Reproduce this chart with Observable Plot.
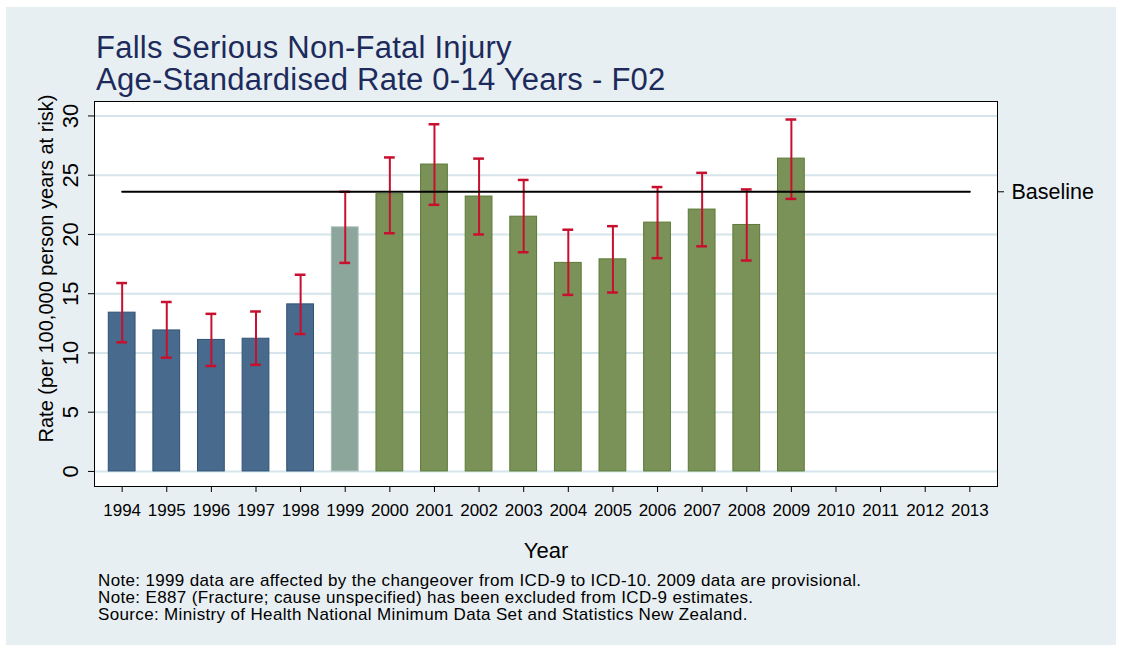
<!DOCTYPE html>
<html>
<head>
<meta charset="utf-8">
<script src="https://cdn.jsdelivr.net/npm/d3@7"></script>
<script src="https://cdn.jsdelivr.net/npm/@observablehq/plot@0.6"></script>
<style>
  html, body { margin: 0; padding: 0; background: #ffffff; }
  body { width: 1121px; height: 648px; position: relative; overflow: hidden;
         font-family: "Liberation Sans", Arial, sans-serif; }
  #panel { position: absolute; left: 6px; top: 7px; width: 1110px; height: 638px; background: #e8eff2; }
  #title { position: absolute; left: 96px; top: 32px; font-size: 31px; line-height: 32px; letter-spacing: 0.25px; color: #1c2b5c; white-space: nowrap; }
  #chart { position: absolute; left: 0; top: 0; }
  #notes { position: absolute; left: 98px; top: 572px; font-size: 17px; line-height: 17px; letter-spacing: 0.35px; color: #000; white-space: nowrap; }
</style>
</head>
<body>
<div id="panel"></div>
<div id="chart"></div>
<div id="title">Falls Serious Non-Fatal Injury<br>Age-Standardised Rate 0-14 Years - F02</div>
<div id="notes">Note: 1999 data are affected by the changeover from ICD-9 to ICD-10. 2009 data are provisional.<br>Note: E887 (Fracture; cause unspecified) has been excluded from ICD-9 estimates.<br>Source: Ministry of Health National Minimum Data Set and Statistics New Zealand.</div>
<script>
const years = ["1994","1995","1996","1997","1998","1999","2000","2001","2002","2003","2004","2005","2006","2007","2008","2009","2010","2011","2012","2013"];
const dataYears = ["1994","1995","1996","1997","1998","1999","2000","2001","2002","2003","2004","2005","2006","2007","2008","2009"];
const rates = [13.4, 11.9, 11.1, 11.2, 14.1, 20.6, 23.4, 25.9, 23.2, 21.5, 17.6, 17.9, 21.0, 22.1, 20.8, 26.4];
const lower = [10.9, 9.6, 8.9, 9.0, 11.6, 17.6, 20.1, 22.5, 20.0, 18.5, 14.9, 15.1, 18.0, 19.0, 17.8, 23.0];
const upper = [15.9, 14.3, 13.3, 13.5, 16.6, 23.6, 26.5, 29.3, 26.4, 24.6, 20.4, 20.7, 24.0, 25.2, 23.8, 29.7];
const groups = ["ICD-9","ICD-9","ICD-9","ICD-9","ICD-9","Changeover","ICD-10","ICD-10","ICD-10","ICD-10","ICD-10","ICD-10","ICD-10","ICD-10","ICD-10","ICD-10"];
const baseline = 23.6;
const yTicks = [0, 5, 10, 15, 20, 25, 30];

const groupStyle = {
  "ICD-9": {fill: "#486a8d", stroke: "#2f5275"},
  "Changeover": {fill: "#8da69b", stroke: "#a9bdb3"},
  "ICD-10": {fill: "#7a9257", stroke: "#5b7a36"}
};

const data = dataYears.map((year, i) => ({year, rate: rates[i], lo: lower[i], hi: upper[i], group: groups[i]}));
const baseLine = [{year: years[0], v: baseline}, {year: years[years.length - 1], v: baseline}];

const errColor = "#c8102e";
const font = "'Liberation Sans', Arial, sans-serif";

const barMarks = Object.keys(groupStyle).map(g =>
  Plot.barY(data.filter(d => d.group === g), {x: "year", y: "rate", fill: groupStyle[g].fill, stroke: groupStyle[g].stroke, strokeWidth: 1})
);

const chart = Plot.plot({
  width: 1121,
  height: 648,
  marginTop: 101,
  marginBottom: 162,
  marginLeft: 94,
  marginRight: 124,
  style: {background: "transparent", fontFamily: font, color: "#000"},
  x: {type: "band", domain: years, paddingInner: 0.4, paddingOuter: 0.32, round: false, axis: null},
  y: {domain: [-1.27, 31.22], axis: null},
  marks: [
    Plot.frame({fill: "white", stroke: "none"}),
    Plot.gridY(yTicks, {stroke: "#d6e4eb", strokeWidth: 2, strokeOpacity: 1}),
    ...barMarks,
    Plot.ruleX(data, {x: "year", y1: "lo", y2: "hi", stroke: errColor, strokeWidth: 2}),
    Plot.tickY(data, {x: "year", y: "hi", stroke: errColor, strokeWidth: 2.5, insetLeft: 8, insetRight: 8}),
    Plot.tickY(data, {x: "year", y: "lo", stroke: errColor, strokeWidth: 2.5, insetLeft: 8, insetRight: 8}),
    Plot.lineY(baseLine, {x: "year", y: "v", stroke: "#000", strokeWidth: 2}),
    Plot.frame({stroke: "#000", strokeWidth: 1}),
    Plot.axisY(yTicks, {anchor: "left", tickSize: 6, tickFormat: () => "", label: null, stroke: "#000"}),
    Plot.text(yTicks, {y: d => d, text: d => String(d), frameAnchor: "left", textAnchor: "middle", rotate: -90, dx: -24, fontSize: 22, fill: "#000"}),
    Plot.text(["Rate (per 100,000 person years at risk)"], {frameAnchor: "top-left", textAnchor: "middle", rotate: -90, dx: -56, dy: 167, fontSize: 20, fill: "#000", ariaLabel: "ylabel"}),
    Plot.axisY([baseline], {anchor: "right", tickSize: 6, tickPadding: 8, tickFormat: () => "Baseline", label: null, fontSize: 21.5, stroke: "#000", fill: "#000"}),
    Plot.axisX(years, {anchor: "bottom", tickSize: 6, tickPadding: 11, label: null, fontSize: 17, stroke: "#000", fill: "#000"}),
    Plot.text(["Year"], {frameAnchor: "bottom", dy: 71, fontSize: 22, fill: "#000"})
  ]
});
// make the rotated axis title's glyphs taller (the reference renders it in a condensed style)
d3.select(chart).selectAll('g[aria-label="ylabel"] text').each(function() {
  const t = this.getAttribute("transform") || "";
  this.setAttribute("transform", t + " scale(1,1.22)");
});
document.getElementById("chart").appendChild(chart);
</script>
</body>
</html>
